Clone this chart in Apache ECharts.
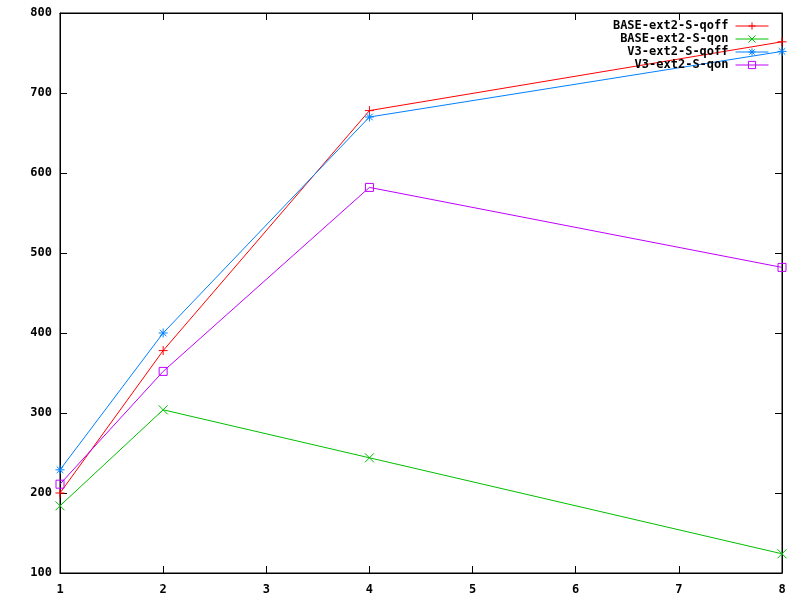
<!DOCTYPE html>
<html><head><meta charset="utf-8">
<script src="https://cdn.jsdelivr.net/npm/echarts@6/dist/echarts.min.js"></script>
<style>html,body{margin:0;padding:0;background:#fff}#c{width:800px;height:600px}</style>
</head><body><div id="c"></div>
<script>
const xValues = [1, 2, 4, 8];
const seriesNames = ['BASE-ext2-S-qoff', 'BASE-ext2-S-qon', 'V3-ext2-S-qoff', 'V3-ext2-S-qon'];
const baseQoff = [200, 378, 678, 764];
const baseQon = [184, 304, 244, 124];
const v3Qoff = [229, 400, 670, 752];
const v3Qon = [211, 352, 582, 482];
const colors = ['#ff0000', '#00c000', '#0080ff', '#c000ff'];
const symbols = [
  'path://M0,4.5H9M4.5,0V9',
  'path://M0,0L9,9M9,0L0,9',
  'path://M0,4.5H9M4.5,0V9M1.2,1.2L7.8,7.8M7.8,1.2L1.2,7.8',
  'rect'
];
const font = '"DejaVu Sans Mono", monospace';
const allData = [baseQoff, baseQon, v3Qoff, v3Qon];
const chart = echarts.init(document.getElementById('c'));
const tickStyle = {show: true, inside: true, length: 7, lineStyle: {color: '#000', width: 1}};
chart.setOption({
  animation: false,
  backgroundColor: '#fff',
  textStyle: {fontFamily: font},
  grid: {left: 60, right: 18, top: 13, bottom: 27, show: true, borderColor: '#000', borderWidth: 1, containLabel: false},
  legend: {
    right: 26, top: 15, orient: 'vertical', align: 'right',
    itemWidth: 33, itemHeight: 9, itemGap: 1,
    lineStyle: {width: 1},
    itemStyle: {borderWidth: 1},
    textStyle: {fontFamily: font, fontWeight: 'bold', fontSize: 12, lineHeight: 12, color: '#000', padding: [0, 2, 0, 0]},
    data: seriesNames
  },
  xAxis: [
    {type: 'value', min: 1, max: 8, interval: 1, position: 'bottom',
     axisLine: {show: true, lineStyle: {color: '#000'}}, axisTick: tickStyle,
     splitLine: {show: false},
     axisLabel: {color: '#000', fontFamily: font, fontWeight: 'bold', fontSize: 12, margin: 11}},
    {type: 'value', min: 1, max: 8, interval: 1, position: 'top',
     axisLine: {show: true, lineStyle: {color: '#000'}}, axisTick: tickStyle,
     splitLine: {show: false}, axisLabel: {show: false}}
  ],
  yAxis: [
    {type: 'value', min: 100, max: 800, interval: 100, position: 'left',
     axisLine: {show: true, lineStyle: {color: '#000'}}, axisTick: tickStyle,
     splitLine: {show: false},
     axisLabel: {color: '#000', fontFamily: font, fontWeight: 'bold', fontSize: 12, margin: 8}},
    {type: 'value', min: 100, max: 800, interval: 100, position: 'right',
     axisLine: {show: true, lineStyle: {color: '#000'}}, axisTick: tickStyle,
     splitLine: {show: false}, axisLabel: {show: false}}
  ],
  series: seriesNames.map((name, i) => ({
    name: name,
    type: 'line',
    data: xValues.map((x, j) => [x, allData[i][j]]),
    symbol: symbols[i],
    symbolSize: i === 3 ? 8 : 9,
    symbolKeepAspect: true,
    showAllSymbol: true,
    lineStyle: {color: colors[i], width: 1},
    itemStyle: {color: i === 3 ? 'rgba(0,0,0,0)' : colors[i], borderColor: colors[i], borderWidth: 1},
    emphasis: {disabled: true}
  }))
});
</script></body></html>
